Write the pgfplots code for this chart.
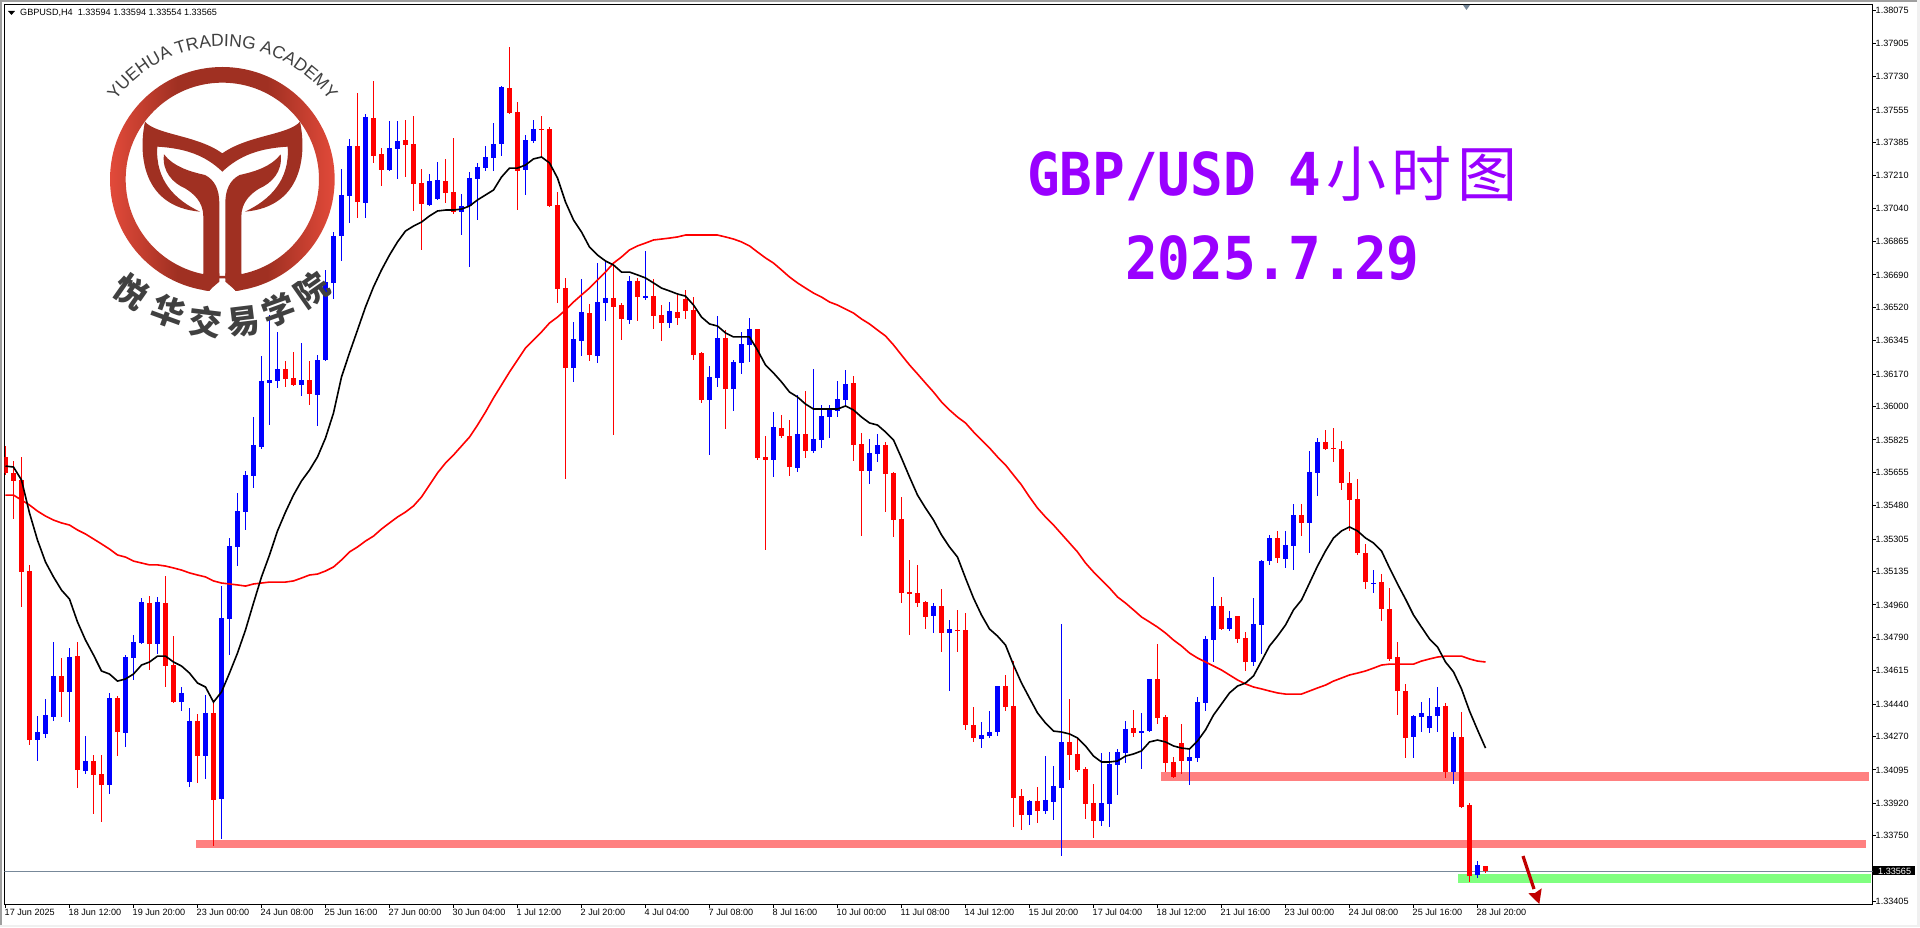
\documentclass[border=0pt]{standalone}
\usepackage{fontspec}
\usepackage{pgfplots}
\usepackage{pgfplotstable}
\pgfplotsset{compat=1.18}
\usetikzlibrary{decorations.text}
\setmainfont{Liberation Sans}
\newfontfamily\monofnt{DejaVu Sans Mono}
\newfontfamily\cjk{Noto Sans CJK SC}

\definecolor{barblue}{RGB}{0,0,255}
\definecolor{barred}{RGB}{255,0,0}
\definecolor{zonepink}{RGB}{255,128,128}
\definecolor{zonegreen}{RGB}{128,255,128}
\definecolor{priceline}{RGB}{119,136,153}
\definecolor{titlepurple}{RGB}{153,0,255}
\definecolor{logodark}{RGB}{160,48,34}
\definecolor{logolight}{RGB}{226,74,58}
\definecolor{logotext}{RGB}{64,64,64}
\definecolor{arrowred}{RGB}{192,0,0}
\pgfdeclarehorizontalshading{logoshade}{100bp}{color(0bp)=(logolight); color(25bp)=(logolight); color(40bp)=(logodark); color(60bp)=(logodark); color(75bp)=(logolight); color(100bp)=(logolight)}

% bars: i open high low close
\pgfplotstableread{
i o h l c
4 1.34252 1.34378 1.34142 1.34294
5 1.34284 1.34467 1.34263 1.34383
6 1.34373 1.34766 1.34352 1.34588
8 1.34504 1.34734 1.34347 1.34687
10 1.34090 1.34273 1.34074 1.34142
13 1.34016 1.34499 1.33969 1.34472
15 1.34289 1.34698 1.34215 1.34687
16 1.34682 1.34803 1.34567 1.34766
17 1.34761 1.34996 1.34755 1.34976
19 1.34755 1.35002 1.34703 1.34976
22 1.34451 1.34530 1.34404 1.34499
23 1.34032 1.34420 1.34006 1.34352
25 1.34168 1.34488 1.34048 1.34394
27 1.33943 1.35059 1.33733 1.34892
28 1.34887 1.35311 1.34698 1.35269
29 1.35264 1.35547 1.35164 1.35452
30 1.35447 1.35662 1.35353 1.35641
31 1.35636 1.35945 1.35573 1.35798
32 1.35788 1.36265 1.35778 1.36134
33 1.36123 1.36480 1.35903 1.36139
34 1.36134 1.36391 1.36097 1.36197
37 1.36113 1.36333 1.36055 1.36139
39 1.36061 1.36270 1.35898 1.36244
40 1.36244 1.36716 1.36239 1.36653
41 1.36648 1.36915 1.36564 1.36894
42 1.36894 1.37245 1.36763 1.37109
43 1.37104 1.37402 1.36962 1.37366
45 1.37067 1.37533 1.36988 1.37518
48 1.37240 1.37497 1.37235 1.37355
49 1.37350 1.37497 1.37193 1.37392
53 1.37056 1.37219 1.37051 1.37182
54 1.37088 1.37282 1.37083 1.37188
57 1.37020 1.37114 1.36899 1.37051
58 1.37051 1.37229 1.36731 1.37198
59 1.37193 1.37277 1.36978 1.37256
60 1.37250 1.37366 1.37235 1.37308
61 1.37303 1.37486 1.37235 1.37376
62 1.37376 1.37680 1.37313 1.37675
65 1.37240 1.37423 1.37109 1.37397
66 1.37392 1.37502 1.37381 1.37455
71 1.36202 1.36443 1.36129 1.36354
72 1.36344 1.36669 1.36265 1.36496
74 1.36265 1.36752 1.36228 1.36548
75 1.36543 1.36758 1.36448 1.36569
78 1.36454 1.36684 1.36433 1.36658
80 1.36569 1.36815 1.36559 1.36579
83 1.36438 1.36548 1.36412 1.36501
88 1.36034 1.36213 1.35746 1.36155
89 1.36150 1.36475 1.36103 1.36359
91 1.36092 1.36244 1.35977 1.36234
92 1.36228 1.36391 1.36171 1.36328
93 1.36323 1.36464 1.36234 1.36407
96 1.35720 1.35971 1.35631 1.35893
99 1.35678 1.36061 1.35657 1.35856
101 1.35767 1.36197 1.35757 1.35830
102 1.35825 1.36008 1.35783 1.35950
103 1.35945 1.36008 1.35835 1.35987
104 1.35977 1.36134 1.35945 1.36040
105 1.36034 1.36192 1.35998 1.36118
108 1.35662 1.35830 1.35594 1.35757
109 1.35751 1.35856 1.35709 1.35798
116 1.34902 1.34970 1.34813 1.34955
118 1.34813 1.34881 1.34509 1.34834
122 1.34257 1.34347 1.34210 1.34279
123 1.34273 1.34404 1.34263 1.34294
124 1.34294 1.34535 1.34273 1.34535
128 1.33859 1.33938 1.33807 1.33932
130 1.33880 1.34168 1.33864 1.33938
131 1.33927 1.34116 1.33833 1.34011
132 1.34001 1.34860 1.33644 1.34242
137 1.33828 1.34184 1.33801 1.33922
138 1.33917 1.34189 1.33796 1.34126
139 1.34121 1.34205 1.33964 1.34189
140 1.34184 1.34352 1.34132 1.34310
142 1.34289 1.34394 1.34100 1.34299
143 1.34299 1.34572 1.34294 1.34572
148 1.34142 1.34205 1.34016 1.34163
149 1.34158 1.34478 1.34137 1.34451
150 1.34446 1.34797 1.34404 1.34782
151 1.34776 1.35107 1.34661 1.34955
153 1.34834 1.34928 1.34824 1.34892
156 1.34661 1.34996 1.34640 1.34860
157 1.34855 1.35196 1.34703 1.35190
158 1.35190 1.35327 1.35170 1.35311
160 1.35201 1.35348 1.35154 1.35274
161 1.35269 1.35489 1.35143 1.35432
163 1.35390 1.35767 1.35232 1.35657
164 1.35652 1.35835 1.35531 1.35814
171 1.35070 1.35143 1.35023 1.35075
176 1.34268 1.34383 1.34158 1.34378
177 1.34373 1.34451 1.34294 1.34394
178 1.34315 1.34472 1.34289 1.34378
179 1.34378 1.34530 1.34294 1.34425
181 1.34085 1.34294 1.34022 1.34268
184 1.33545 1.33618 1.33529 1.33597
}\upbars

\pgfplotstableread{
i o h l c
0 1.35736 1.35793 1.35641 1.35652
1 1.35652 1.35715 1.35411 1.35610
2 1.35615 1.35736 1.34949 1.35133
3 1.35138 1.35170 1.34226 1.34252
7 1.34588 1.34682 1.34373 1.34504
9 1.34692 1.34766 1.34001 1.34095
11 1.34142 1.34174 1.33864 1.34069
12 1.34074 1.34174 1.33822 1.34016
14 1.34472 1.34483 1.34168 1.34294
18 1.34970 1.35007 1.34619 1.34755
20 1.34970 1.35112 1.34530 1.34640
21 1.34645 1.34797 1.34446 1.34451
24 1.34352 1.34388 1.34027 1.34168
26 1.34394 1.34462 1.33697 1.33938
35 1.36197 1.36239 1.36103 1.36144
36 1.36150 1.36286 1.36108 1.36113
38 1.36139 1.36239 1.36008 1.36066
44 1.37366 1.37644 1.36988 1.37072
46 1.37512 1.37706 1.37277 1.37313
47 1.37324 1.37355 1.37156 1.37240
50 1.37397 1.37502 1.37203 1.37371
51 1.37376 1.37523 1.37025 1.37167
52 1.37172 1.37245 1.36821 1.37062
55 1.37182 1.37298 1.37067 1.37119
56 1.37125 1.37408 1.37009 1.37020
63 1.37670 1.37885 1.37533 1.37539
64 1.37544 1.37596 1.37030 1.37235
67 1.37455 1.37523 1.37308 1.37450
68 1.37455 1.37465 1.37046 1.37051
69 1.37056 1.37125 1.36543 1.36616
70 1.36621 1.36674 1.35620 1.36202
73 1.36490 1.36538 1.36239 1.36270
76 1.36569 1.36758 1.35851 1.36522
77 1.36532 1.36543 1.36349 1.36459
79 1.36658 1.36674 1.36448 1.36574
81 1.36579 1.36669 1.36407 1.36475
82 1.36480 1.36532 1.36344 1.36438
84 1.36496 1.36585 1.36428 1.36464
85 1.36564 1.36611 1.36459 1.36501
86 1.36506 1.36574 1.36244 1.36270
87 1.36281 1.36286 1.36019 1.36034
90 1.36359 1.36401 1.35882 1.36092
94 1.36407 1.36407 1.35720 1.35730
95 1.35736 1.35846 1.35248 1.35720
97 1.35888 1.35956 1.35835 1.35846
98 1.35846 1.35930 1.35636 1.35683
100 1.35856 1.36081 1.35730 1.35767
106 1.36123 1.36160 1.35715 1.35798
107 1.35804 1.35861 1.35321 1.35662
110 1.35798 1.35814 1.35447 1.35646
111 1.35652 1.35657 1.35316 1.35405
112 1.35411 1.35526 1.34970 1.35023
113 1.35028 1.35196 1.34803 1.35018
114 1.35023 1.35170 1.34949 1.34970
115 1.34976 1.34981 1.34834 1.34897
117 1.34955 1.35044 1.34713 1.34813
119 1.34829 1.34934 1.34713 1.34824
120 1.34829 1.34918 1.34305 1.34331
121 1.34331 1.34425 1.34242 1.34263
125 1.34535 1.34593 1.34404 1.34425
126 1.34430 1.34666 1.33796 1.33948
127 1.33959 1.33995 1.33780 1.33859
129 1.33932 1.34006 1.33817 1.33880
133 1.34242 1.34467 1.34043 1.34174
134 1.34179 1.34268 1.34085 1.34095
135 1.34100 1.34111 1.33838 1.33917
136 1.33922 1.34022 1.33739 1.33828
141 1.34315 1.34409 1.34268 1.34289
144 1.34572 1.34755 1.34336 1.34368
145 1.34373 1.34383 1.34085 1.34132
146 1.34137 1.34163 1.34053 1.34058
147 1.34236 1.34336 1.34074 1.34142
152 1.34955 1.35002 1.34829 1.34834
154 1.34902 1.34902 1.34761 1.34782
155 1.34787 1.34818 1.34614 1.34661
159 1.35311 1.35348 1.35180 1.35206
162 1.35432 1.35489 1.35321 1.35390
165 1.35814 1.35877 1.35772 1.35778
166 1.35783 1.35888 1.35709 1.35778
167 1.35778 1.35819 1.35563 1.35600
168 1.35600 1.35657 1.35348 1.35510
169 1.35515 1.35620 1.35222 1.35232
170 1.35232 1.35280 1.35044 1.35080
172 1.35080 1.35122 1.34876 1.34939
173 1.34939 1.35049 1.34666 1.34677
174 1.34687 1.34766 1.34383 1.34509
175 1.34509 1.34546 1.34158 1.34263
180 1.34430 1.34446 1.34053 1.34085
182 1.34268 1.34399 1.33896 1.33901
183 1.33911 1.33922 1.33508 1.33539
185 1.33594 1.33594 1.33554 1.33565
}\downbars

% moving averages
\pgfplotstableread{
i v
0 1.35688
1 1.35683
2 1.35615
3 1.35442
4 1.35300
5 1.35185
6 1.35107
7 1.35038
8 1.34991
9 1.34871
10 1.34776
11 1.34698
12 1.34614
13 1.34598
14 1.34561
15 1.34572
16 1.34598
17 1.34645
18 1.34661
19 1.34692
20 1.34692
21 1.34661
22 1.34640
23 1.34603
24 1.34551
25 1.34530
26 1.34451
27 1.34504
28 1.34603
29 1.34708
30 1.34829
31 1.34970
32 1.35107
33 1.35222
34 1.35348
35 1.35447
36 1.35536
37 1.35610
38 1.35667
39 1.35736
40 1.35835
41 1.35966
42 1.36155
43 1.36281
44 1.36401
45 1.36522
46 1.36627
47 1.36716
48 1.36794
49 1.36863
50 1.36920
51 1.36946
52 1.36967
53 1.36999
54 1.37025
55 1.37030
56 1.37030
57 1.37035
58 1.37051
59 1.37083
60 1.37109
61 1.37135
62 1.37203
63 1.37250
64 1.37250
65 1.37266
66 1.37298
67 1.37308
68 1.37277
69 1.37198
70 1.37072
71 1.36978
72 1.36915
73 1.36836
74 1.36794
75 1.36763
76 1.36742
77 1.36705
78 1.36705
79 1.36690
80 1.36674
81 1.36648
82 1.36621
83 1.36606
84 1.36590
85 1.36579
86 1.36532
87 1.36469
88 1.36433
89 1.36422
90 1.36386
91 1.36365
92 1.36365
93 1.36365
94 1.36296
95 1.36218
96 1.36176
97 1.36129
98 1.36076
99 1.36050
100 1.36013
101 1.35987
102 1.35987
103 1.35987
104 1.35987
105 1.36003
106 1.35982
107 1.35945
108 1.35914
109 1.35903
110 1.35867
111 1.35825
112 1.35730
113 1.35631
114 1.35536
115 1.35468
116 1.35405
117 1.35327
118 1.35264
119 1.35211
120 1.35101
121 1.34996
122 1.34907
123 1.34834
124 1.34797
125 1.34750
126 1.34645
127 1.34551
128 1.34472
129 1.34394
130 1.34341
131 1.34299
132 1.34294
133 1.34284
134 1.34263
135 1.34221
136 1.34168
137 1.34137
138 1.34137
139 1.34142
140 1.34168
141 1.34179
142 1.34195
143 1.34242
144 1.34252
145 1.34242
146 1.34221
147 1.34210
148 1.34205
149 1.34247
150 1.34305
151 1.34383
152 1.34441
153 1.34499
154 1.34535
155 1.34551
156 1.34588
157 1.34666
158 1.34745
159 1.34797
160 1.34855
161 1.34934
162 1.34986
163 1.35075
164 1.35164
165 1.35243
166 1.35311
167 1.35348
168 1.35369
169 1.35348
170 1.35311
171 1.35285
172 1.35243
173 1.35154
174 1.35070
175 1.34991
176 1.34907
177 1.34844
178 1.34782
179 1.34740
180 1.34661
181 1.34609
182 1.34520
183 1.34404
184 1.34305
185 1.34210
}\fastma

\pgfplotstableread{
i v
0 1.35536
1 1.35536
2 1.35510
3 1.35484
4 1.35452
5 1.35426
6 1.35405
7 1.35390
8 1.35379
9 1.35353
10 1.35332
11 1.35306
12 1.35280
13 1.35253
14 1.35222
15 1.35211
16 1.35190
17 1.35180
18 1.35170
19 1.35170
20 1.35164
21 1.35154
22 1.35143
23 1.35128
24 1.35117
25 1.35107
26 1.35086
27 1.35075
28 1.35070
29 1.35065
30 1.35059
31 1.35070
32 1.35075
33 1.35080
34 1.35080
35 1.35080
36 1.35086
37 1.35101
38 1.35117
39 1.35122
40 1.35138
41 1.35159
42 1.35196
43 1.35238
44 1.35264
45 1.35295
46 1.35321
47 1.35358
48 1.35390
49 1.35421
50 1.35447
51 1.35479
52 1.35526
53 1.35589
54 1.35652
55 1.35704
56 1.35746
57 1.35793
58 1.35840
59 1.35903
60 1.35971
61 1.36045
62 1.36113
63 1.36181
64 1.36244
65 1.36307
66 1.36349
67 1.36391
68 1.36438
69 1.36469
70 1.36506
71 1.36548
72 1.36585
73 1.36621
74 1.36663
75 1.36705
76 1.36752
77 1.36784
78 1.36821
79 1.36842
80 1.36857
81 1.36873
82 1.36878
83 1.36883
84 1.36889
85 1.36899
86 1.36899
87 1.36899
88 1.36899
89 1.36899
90 1.36889
91 1.36878
92 1.36863
93 1.36842
94 1.36810
95 1.36779
96 1.36752
97 1.36716
98 1.36679
99 1.36648
100 1.36621
101 1.36595
102 1.36574
103 1.36548
104 1.36532
105 1.36511
106 1.36490
107 1.36459
108 1.36433
109 1.36401
110 1.36370
111 1.36323
112 1.36270
113 1.36218
114 1.36171
115 1.36123
116 1.36076
117 1.36024
118 1.35982
119 1.35945
120 1.35914
121 1.35867
122 1.35825
123 1.35783
124 1.35736
125 1.35694
126 1.35641
127 1.35589
128 1.35526
129 1.35468
130 1.35421
131 1.35379
132 1.35332
133 1.35285
134 1.35238
135 1.35180
136 1.35133
137 1.35091
138 1.35049
139 1.35002
140 1.34970
141 1.34934
142 1.34897
143 1.34871
144 1.34844
145 1.34813
146 1.34776
147 1.34745
148 1.34708
149 1.34682
150 1.34661
151 1.34640
152 1.34619
153 1.34593
154 1.34567
155 1.34546
156 1.34530
157 1.34520
158 1.34509
159 1.34499
160 1.34493
161 1.34493
162 1.34493
163 1.34509
164 1.34525
165 1.34540
166 1.34561
167 1.34577
168 1.34593
169 1.34603
170 1.34614
171 1.34629
172 1.34645
173 1.34650
174 1.34650
175 1.34650
176 1.34650
177 1.34666
178 1.34677
179 1.34687
180 1.34692
181 1.34692
182 1.34692
183 1.34677
184 1.34666
185 1.34661
}\slowma

\newcommand{\candles}[2]{%
  \addplot[forget plot, draw=none, mark=none, error bars/.cd, y dir=both, y explicit,
    error mark=none, error bar style={draw=#2, line width=1pt}]
    table[x=i, y=c, y error plus expr={\thisrow{h}-\thisrow{c}}, y error minus expr={\thisrow{c}-\thisrow{l}}] {#1};
  \addplot[forget plot, draw=none, mark=none, error bars/.cd, y dir=both, y explicit,
    error mark=none, error bar style={draw=#2, line width=5pt}]
    table[x=i, y=c, y error plus expr={max(\thisrow{o}-\thisrow{c},0)}, y error minus expr={max(\thisrow{c}-\thisrow{o},0)}] {#1};
}

\begin{document}
\begin{tikzpicture}
\fill[white] (-4.5pt,-22.5pt) rectangle (1915.5pt,904.5pt);
\path[use as bounding box] (-4.5pt,-22.5pt) rectangle (1915.5pt,904.5pt);
\begin{axis}[
    at={(0pt,0pt)}, anchor=south west,
    scale only axis, width=1868pt, height=900pt,
    xmin=-0.125, xmax=233.375, ymin=1.33390, ymax=1.381074,
    axis line style={line width=1pt},
    tick align=outside, major tick length=3pt,
    tick style={black, line width=1pt},
    xtick pos=bottom, ytick pos=right,
    yticklabel pos=right, scaled ticks=false,
    xtick={0,8,...,184},
    xticklabels={17 Jun 2025,18 Jun 12:00,19 Jun 20:00,23 Jun 00:00,24 Jun 08:00,25 Jun 16:00,27 Jun 00:00,30 Jun 04:00,1 Jul 12:00,2 Jul 20:00,4 Jul 04:00,7 Jul 08:00,8 Jul 16:00,10 Jul 00:00,11 Jul 08:00,14 Jul 12:00,15 Jul 20:00,17 Jul 04:00,18 Jul 12:00,21 Jul 16:00,23 Jul 00:00,24 Jul 08:00,25 Jul 16:00,28 Jul 20:00},
    ytick={1.38075,1.37905,1.37730,1.37555,1.37385,1.37210,1.37040,1.36865,1.36690,1.36520,1.36345,1.36170,1.36000,1.35825,1.35655,1.35480,1.35305,1.35135,1.34960,1.34790,1.34615,1.34440,1.34270,1.34095,1.33920,1.33750,1.33577,1.33405},
    yticklabels={1.38075,1.37905,1.37730,1.37555,1.37385,1.37210,1.37040,1.36865,1.36690,1.36520,1.36345,1.36170,1.36000,1.35825,1.35655,1.35480,1.35305,1.35135,1.34960,1.34790,1.34615,1.34440,1.34270,1.34095,1.33920,1.33750,,1.33405},
    xticklabel style={font=\fontsize{9.1}{10}\selectfont, anchor=north west, inner sep=0pt, xshift=-1pt, yshift=-1pt},
    yticklabel style={font=\fontsize{9.1}{10}\selectfont, anchor=west, inner sep=0pt, xshift=0pt},
  ]
  % zones
  \addplot[forget plot, fill=zonepink, draw=none] coordinates {(144.4,1.34085) (232.9,1.34085) (232.9,1.34037) (144.4,1.34037)} --cycle;
  \addplot[forget plot, fill=zonepink, draw=none] coordinates {(23.8,1.33728) (232.6,1.33728) (232.6,1.33686) (23.8,1.33686)} --cycle;
  \addplot[forget plot, fill=zonegreen, draw=none] coordinates {(181.6,1.33550) (233.2,1.33550) (233.2,1.33503) (181.6,1.33503)} --cycle;
  % current price
  \addplot[forget plot, priceline, line width=1pt] coordinates {(-0.125,1.33565) (233.375,1.33565)};
  \candles{\upbars}{barblue}
  \candles{\downbars}{barred}
  \addplot[forget plot, barred, line width=1.6pt] table[x=i, y=v] {\slowma};
  \addplot[forget plot, black, line width=1.6pt] table[x=i, y=v] {\fastma};
\end{axis}

% logo, image coordinates of the zoomed crop
\begin{scope}[shift={(85.5pt,884.5pt)}, x=0.33333pt, y=-0.33333pt]
  \path[even odd rule, shading=logoshade]
    (397,478) circle[radius=337] (397,478) circle[radius=290];
  \fill[logodark] (165,305) .. controls (200,345) and (320,345) .. (397,400)
    .. controls (475,345) and (595,345) .. (630,305)
    .. controls (650,400) and (640,560) .. (465,575)
    .. controls (540,540) and (600,480) .. (593,380)
    .. controls (510,385) and (450,405) .. (397,455)
    .. controls (345,405) and (285,385) .. (202,380)
    .. controls (195,480) and (255,540) .. (330,575)
    .. controls (155,560) and (145,400) .. (165,305) -- cycle;
  \fill[logodark] (222,403) .. controls (250,440) and (300,455) .. (345,465)
    .. controls (375,480) and (388,510) .. (388,550) -- (388,800) -- (340,800) -- (340,590)
    .. controls (340,545) and (310,520) .. (285,505)
    .. controls (250,490) and (215,455) .. (222,403) -- cycle;
  \fill[logodark] (572,403) .. controls (544,440) and (494,455) .. (449,465)
    .. controls (419,480) and (406,510) .. (406,550) -- (406,800) -- (454,800) -- (454,590)
    .. controls (454,545) and (484,520) .. (509,505)
    .. controls (544,490) and (579,455) .. (572,403) -- cycle;
  \fill[white] (388,775) -- (355,818) -- (355,830) -- (440,830) -- (440,818) -- (406,775) -- cycle;
  \fill[logodark] (340,760) -- (388,760) -- (388,785) -- (355,813) -- (340,810) -- cycle;
  \fill[logodark] (454,760) -- (406,760) -- (406,785) -- (439,813) -- (454,810) -- cycle;
  \foreach \px/\py/\rot/\ch in {125/815/-35/悦,235/875/-20/华,345/905/-7/交,460/905/7/易,565/870/20/学,665/810/35/院}
    \node[text=logotext, inner sep=0pt, rotate=\rot, font=\cjk\bfseries\fontsize{33}{33}\selectfont] at (\px,\py) {\ch};
\end{scope}
\path[decorate, decoration={text along path, text align=center,
    text={|\fontsize{17.5}{18}\selectfont\color{logotext}|YUEHUA TRADING ACADEMY}}]
  (218pt,725pt) ++(144.5:133pt) arc[start angle=144.5, end angle=35.5, radius=133pt];

% annotations in image pixels
\begin{scope}[shift={(-4.5pt,904.5pt)}, x=1pt, y=-1pt]
  \fill[gray!75] (0,0) rectangle (1920,2);
  \fill[gray!75] (0,0) rectangle (2,927);
  \fill[gray!12] (0,925) rectangle (1920,927);
  \fill[gray!12] (1917,0) rectangle (1920,927);
  \fill[black] (8,11) -- (15,11) -- (11.5,15) -- cycle;
  \node[anchor=base west, inner sep=0pt, font=\fontsize{9.1}{10}\selectfont] at (20,16) {GBPUSD,H4\ \ 1.33594 1.33594 1.33554 1.33565};
  \fill[priceline] (1463,5) -- (1470,5) -- (1466.5,10) -- cycle;
  \fill[black] (1873,866) rectangle (1915,875);
  \node[anchor=base west, inner sep=0pt, text=white, font=\fontsize{9.1}{10}\selectfont] at (1878,874) {1.33565};
  \draw[arrowred, line width=3.2pt] (1523,856) -- (1534,889);
  \fill[arrowred] (1539.3,904) -- (1528.3,893.3) -- (1535,893) -- (1541.7,888.3) -- cycle;
  \node[anchor=base west, inner sep=0pt, text=titlepurple] at (1027,196)
    {\scalebox{1}[1.09]{\monofnt\bfseries\fontsize{54.3}{56}\selectfont GBP/USD 4}};
  \foreach \px/\ch in {1326/小,1391/时,1457/图}
    \node[anchor=base west, inner sep=0pt, text=titlepurple, font=\cjk\fontsize{60}{60}\selectfont] at (\px,197) {\ch};
  \node[anchor=base west, inner sep=0pt, text=titlepurple] at (1125,280)
    {\scalebox{1}[1.09]{\monofnt\bfseries\fontsize{54.3}{56}\selectfont 2025.7.29}};
\end{scope}
\end{tikzpicture}
\end{document}
